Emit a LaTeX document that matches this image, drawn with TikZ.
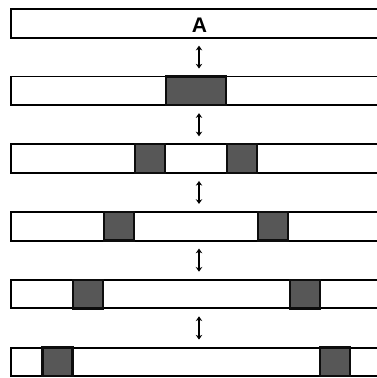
\documentclass[tikz,border=0pt]{standalone}
\usepackage{fontspec}
\setmainfont{Liberation Sans}
\usetikzlibrary{arrows.meta,positioning}

\begin{document}
\begin{tikzpicture}[
    x=0.03cm, y=-0.03cm,
    bar/.style={draw, line width=1.6pt, minimum width=12cm, minimum height=0.86cm, inner sep=0pt, outer sep=0pt, anchor=north west},
    block/.style={draw=black!95, fill=black!66, line width=2pt, minimum width=0.9cm, minimum height=0.86cm, inner sep=0pt, outer sep=0pt, anchor=north},
    swap/.style={{Stealth[length=4pt,width=5.5pt]}-{Stealth[length=4pt,width=5.5pt]}, line width=0.9pt, shorten <=0.24cm, shorten >=0.24cm}
]
\clip (0,0) rectangle (377,378);
\useasboundingbox (0,0) rectangle (377,378);
\coordinate (mid) at (199,0);
% bars
\node[bar] (bar1) at (11,9) {};
\node[bar] (bar2) at (11,76.5) {};
\node[bar] (bar3) at (11,144.3) {};
\node[bar] (bar4) at (11,211.9) {};
\node[bar] (bar5) at (11,279.7) {};
\node[bar] (bar6) at (11,347.6) {};
\node[font=\fontsize{18}{20}\selectfont\bfseries] (lblA) at (199.5,25.5) {A};
% dark blocks
\node[block, minimum width=1.8cm] (b2) at (196.3,76.5) {};
\node[block] (b3l) at (150.2,144.3) {};
\node[block] (b3r) at (242.3,144.3) {};
\node[block] (b4l) at (119.2,211.9) {};
\node[block] (b4r) at (273.3,211.9) {};
\node[block] (b5l) at (88.2,279.7) {};
\node[block] (b5r) at (304.7,279.7) {};
\node[block] (b6l) at (57.5,347.6) {};
\node[block] (b6r) at (335.1,347.6) {};
% arrows
\draw[swap] (bar1.south -| mid) -- (bar2.north -| mid);
\draw[swap] (bar2.south -| mid) -- (bar3.north -| mid);
\draw[swap] (bar3.south -| mid) -- (bar4.north -| mid);
\draw[swap] (bar4.south -| mid) -- (bar5.north -| mid);
\draw[swap] (bar5.south -| mid) -- (bar6.north -| mid);
\end{tikzpicture}
\end{document}
